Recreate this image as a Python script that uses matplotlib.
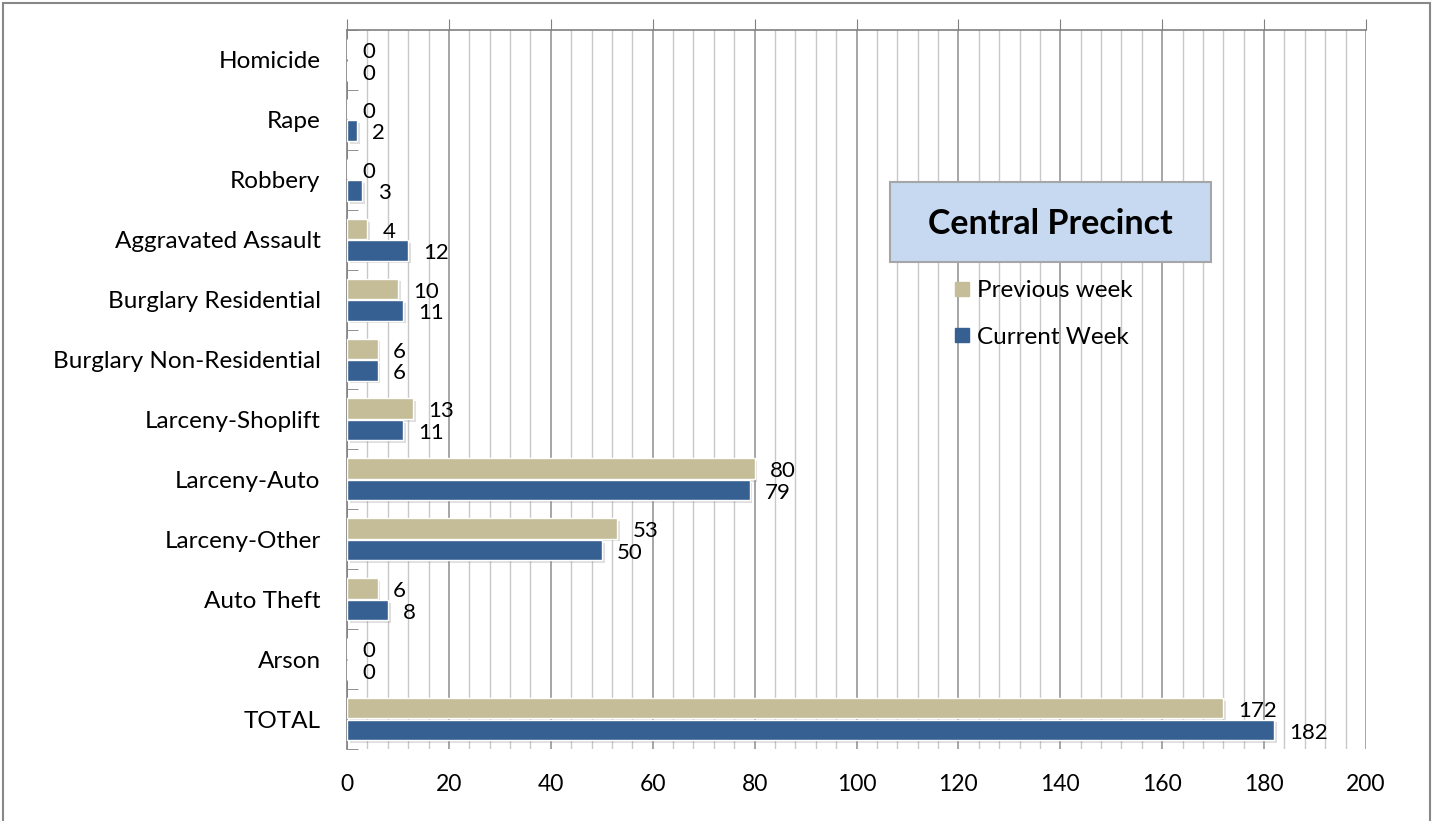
import matplotlib
matplotlib.use("Agg")
import matplotlib.pyplot as plt
import matplotlib.patheffects as pe
from matplotlib.patches import Rectangle
from matplotlib.lines import Line2D
from matplotlib.ticker import MultipleLocator, FixedLocator
import numpy as np

plt.rcParams['font.family'] = ['Lato', 'DejaVu Sans']

categories = ["Homicide", "Rape", "Robbery", "Aggravated Assault", "Burglary Residential",
              "Burglary Non-Residential", "Larceny-Shoplift", "Larceny-Auto", "Larceny-Other",
              "Auto Theft", "Arson", "TOTAL"]
previous_week = [0, 0, 0, 4, 10, 6, 13, 80, 53, 6, 0, 172]
current_week = [0, 2, 3, 12, 11, 6, 11, 79, 50, 8, 0, 182]
series_names = ["Previous week", "Current Week"]
title_text = "Central Precinct"
xticks = [0, 20, 40, 60, 80, 100, 120, 140, 160, 180, 200]

c_prev = "#C4BD97"
c_cur = "#376092"

W, H = 1434, 821
fig = plt.figure(figsize=(W / 100, H / 100), dpi=100)
ax = fig.add_axes([347 / W, 1 - 749 / H, (1366 - 347) / W, (749 - 30) / H])

y = np.arange(len(categories))
h = 0.34
shadow = [pe.SimplePatchShadow(offset=(2, -2), alpha=0.25, shadow_rgbFace='gray'), pe.Normal()]
b1 = ax.barh(y - 0.18, previous_week, height=h, color=c_prev, edgecolor='white', linewidth=1, zorder=3)
b2 = ax.barh(y + 0.18, current_week, height=h, color=c_cur, edgecolor='white', linewidth=1, zorder=3)
for b in list(b1) + list(b2):
    b.set_path_effects(shadow)

for yi, v in zip(y, previous_week):
    ax.annotate(str(v), (v, yi - 0.18), xytext=(11, -2), textcoords='offset points',
                va='center', ha='left', fontsize=16, zorder=5)
for yi, v in zip(y, current_week):
    ax.annotate(str(v), (v, yi + 0.18), xytext=(11, -2), textcoords='offset points',
                va='center', ha='left', fontsize=16, zorder=5)

ax.set_xlim(0, 200)
ax.set_ylim(len(categories) - 0.5, -0.5)
ax.set_yticks(y)
ax.set_yticklabels(categories, fontsize=17.5)
ax.yaxis.set_minor_locator(FixedLocator(np.arange(-0.5, len(categories), 1.0)))
ax.tick_params(axis='y', which='major', length=0, pad=19)
ax.tick_params(axis='y', which='minor', length=8, direction='in', color='#808080')

ax.set_xticks(xticks)
ax.xaxis.set_minor_locator(MultipleLocator(4))
ax.tick_params(axis='x', which='major', bottom=False, top=True, labelbottom=True, labeltop=False,
               direction='out', length=8, color='#808080', labelsize=16.5, pad=10)
ax.tick_params(axis='x', which='minor', bottom=False, top=False)
ax.grid(axis='x', which='major', color='#969696', linewidth=1.2, zorder=0)
ax.grid(axis='x', which='minor', color='#c8c8c8', linewidth=1.0, zorder=0)
ax.set_axisbelow(True)

for s in ['right', 'bottom']:
    ax.spines[s].set_visible(False)
ax.spines['top'].set_color('#808080')
ax.spines['left'].set_color('#808080')
ax.spines['top'].set_linewidth(1.2)
ax.spines['left'].set_linewidth(1.2)

# Title box
fig.patches.append(Rectangle((890 / W, 1 - 262 / H), (1211 - 890) / W, 80 / H,
                             transform=fig.transFigure, facecolor='#C6D9F1',
                             edgecolor='#a6a6a6', linewidth=1.5, zorder=5))
fig.text(1050 / W, 1 - 224 / H, title_text, ha='center', va='center',
         fontsize=24.5, fontweight='bold', zorder=6)

handles = [Line2D([], [], marker='s', linestyle='none', markersize=10, color=c_prev),
           Line2D([], [], marker='s', linestyle='none', markersize=10, color=c_cur)]
fig.legend(handles, series_names, loc='upper left', bbox_to_anchor=(950 / W, 1 - 280 / H),
           frameon=False, fontsize=17.5, handletextpad=0.1, labelspacing=1.05,
           handlelength=1.0, borderaxespad=0, borderpad=0)

fig.patches.append(Rectangle((3 / W, -0.01), (1430 - 3) / W, 1 - 3 / H + 0.01,
                             transform=fig.transFigure, facecolor='none',
                             edgecolor='#888888', linewidth=1.5))

fig.savefig("out.png", dpi=100)
